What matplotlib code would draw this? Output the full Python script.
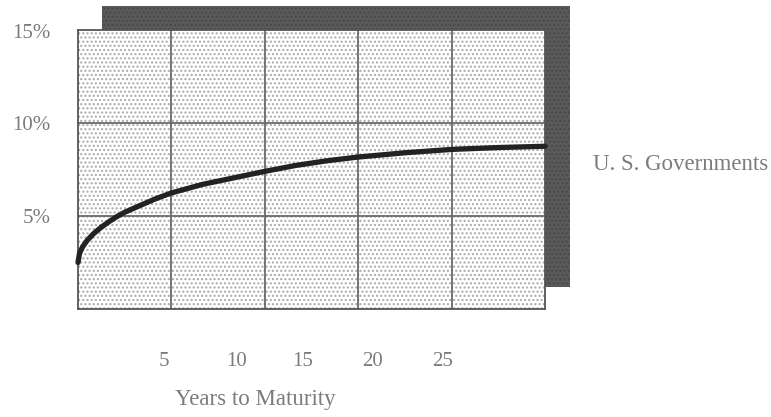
import matplotlib
matplotlib.use("Agg")
import matplotlib.pyplot as plt
from matplotlib.patches import Rectangle
from matplotlib.transforms import ScaledTranslation

# Yield curve: years to maturity vs. yield (%)
years = [0, 0.1, 0.3, 0.6, 1, 1.5, 2, 2.5, 3, 4, 5, 6, 8, 10, 12, 14, 16, 18, 21, 24, 27, 30]
yields = [2.5, 3.0, 3.35, 3.7, 4.05, 4.4, 4.7, 4.97, 5.2, 5.57, 5.93, 6.24, 6.7, 7.05,
          7.4, 7.72, 7.97, 8.17, 8.4, 8.58, 8.68, 8.75]

y_ticks = [5, 10, 15]
y_tick_labels = ["5%", "10%", "15%"]
x_tick_labels = ["5", "10", "15", "20", "25"]
x_label_pos = [5.55, 10.2, 14.45, 18.95, 23.4]
series_name = "U. S. Governments"

plt.rcParams["font.family"] = ["Liberation Serif", "DejaVu Serif"]
txt = "#7c7c7c"

fig = plt.figure(figsize=(7.71, 4.17), dpi=100)
fig.patch.set_facecolor("white")

ax = fig.add_axes([78 / 771, 1 - 309 / 417, 467 / 771, 279 / 417])

# drop shadow behind the plot area
shadow = Rectangle((102 / 771, 1 - 287 / 417), 468 / 771, 281 / 417,
                   transform=fig.transFigure, facecolor="#5a5a5a",
                   edgecolor="#484848", hatch="....", linewidth=0, zorder=-1)
fig.patches.append(shadow)

ax.set_facecolor("white")
ax.add_patch(Rectangle((0, 0), 1, 1, transform=ax.transAxes, facecolor="white",
                       edgecolor="#a8a8a8", hatch="....", linewidth=0, zorder=0))

ax.set_xlim(0, 30)
ax.set_ylim(0, 15)

for gx in [6, 12, 18, 24]:
    ax.axvline(gx, color="#6a6a6a", lw=1.3, zorder=1)
for gy in [5, 10]:
    ax.axhline(gy, color="#6a6a6a", lw=1.3, zorder=1)

ax.plot(years, yields, color="#222222", lw=3.8, solid_capstyle="round",
        solid_joinstyle="round", zorder=3, clip_on=False)

for s in ax.spines.values():
    s.set_color("#555555")
    s.set_linewidth(1.3)

ax.set_yticks(y_ticks, y_tick_labels)
ax.set_xticks(x_label_pos, x_tick_labels)
ax.tick_params(axis="y", length=0, pad=20, labelsize=15, labelcolor=txt)
ax.tick_params(axis="x", length=0, pad=31, labelsize=15, labelcolor=txt)
shift = ScaledTranslation(0, -3 / 100, fig.dpi_scale_trans)
for lab in ax.get_yticklabels():
    lab.set_verticalalignment("center")
    lab.set_transform(lab.get_transform() + shift)

fig.text(255 / 771, 1 - 400 / 417, "Years to Maturity", ha="center", va="center",
         fontsize=16.5, color=txt)
fig.text(593 / 771, 1 - 165 / 417, series_name, ha="left", va="center",
         fontsize=16.5, color=txt)

fig.savefig("out.png", dpi=100)
